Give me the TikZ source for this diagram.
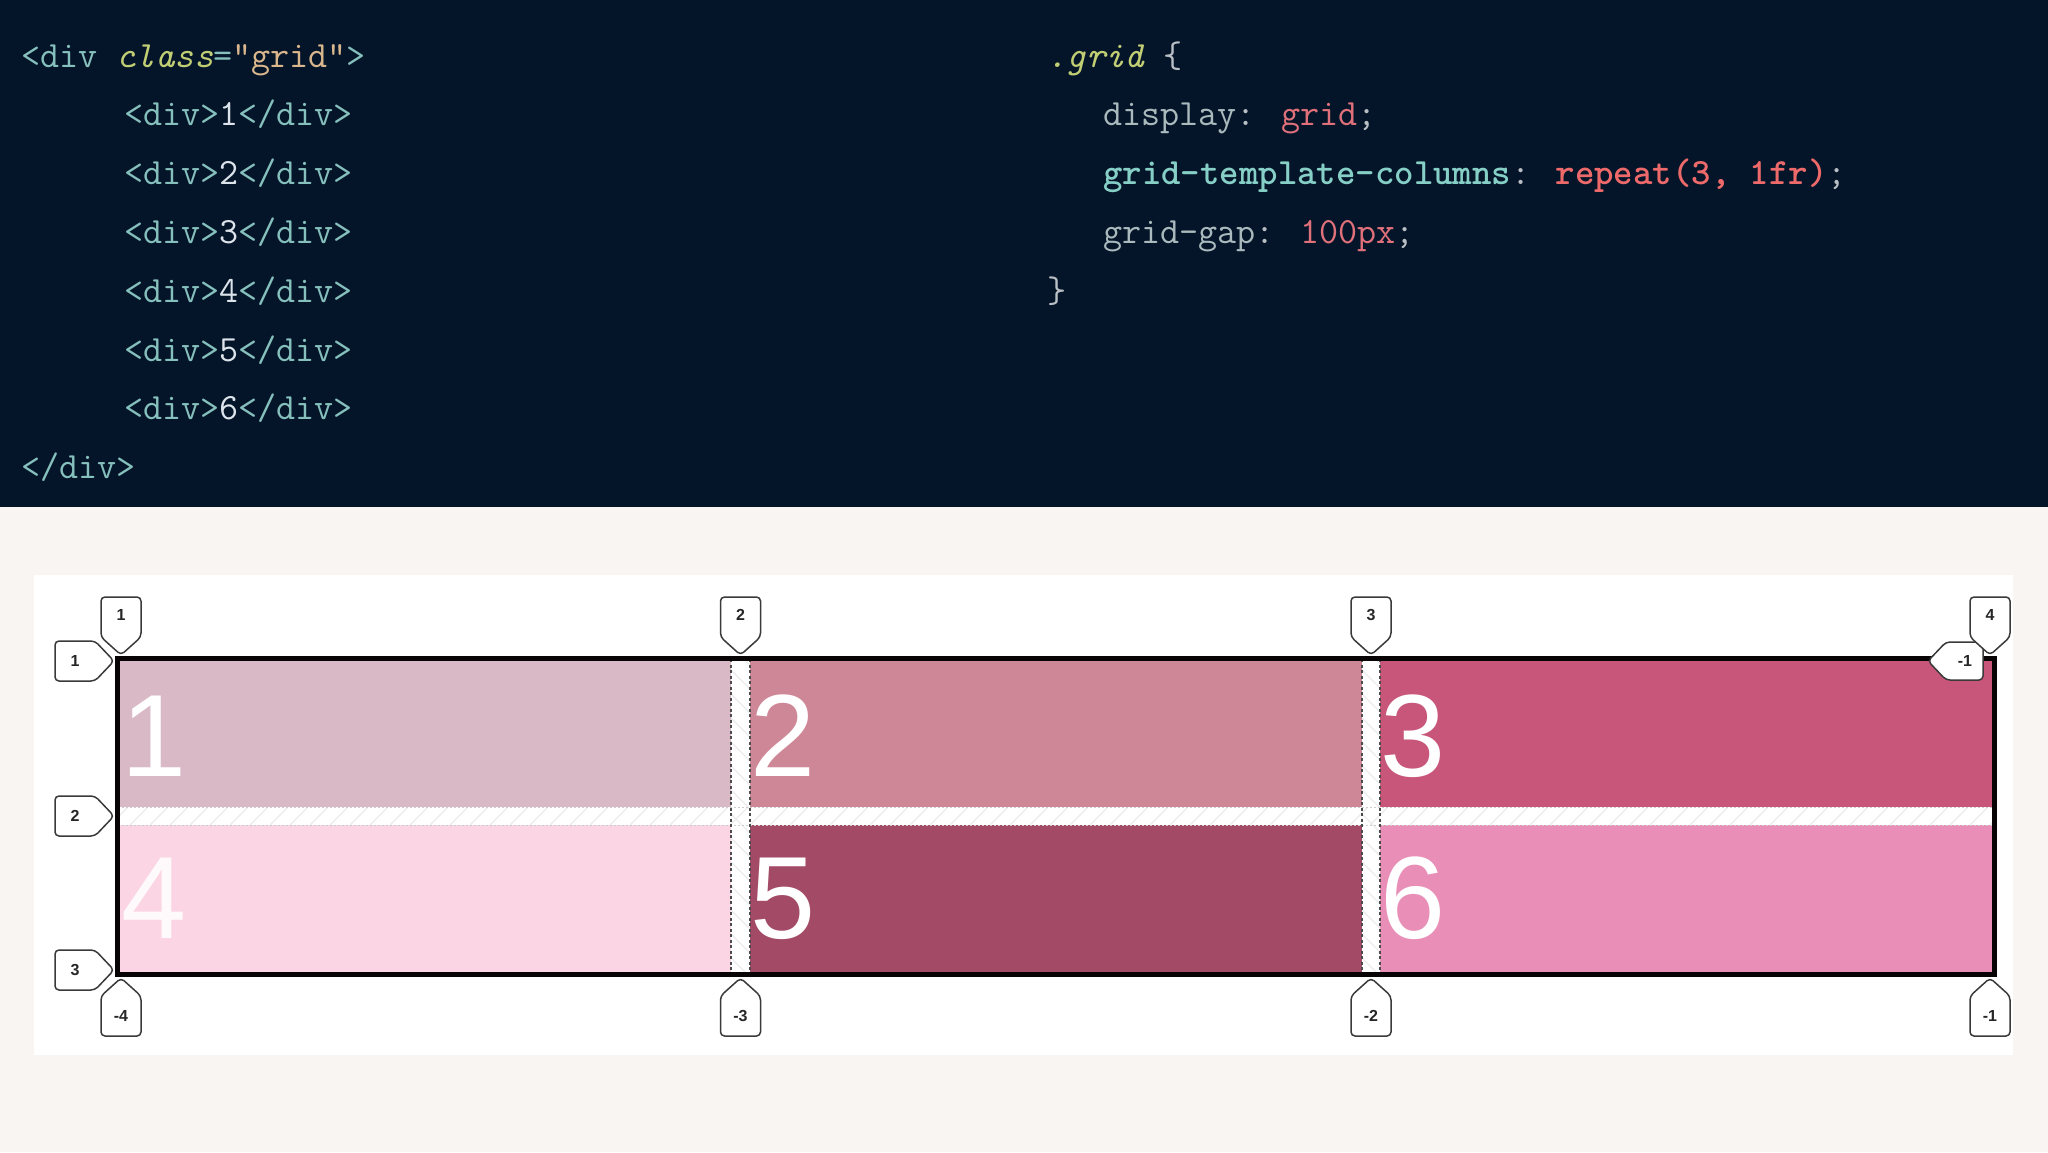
\documentclass[tikz,border=0pt]{standalone}
\usepackage{fontspec}
\newfontfamily\numfont{Liberation Sans}
\definecolor{codebg}{HTML}{04152A}
\definecolor{lightbg}{HTML}{F8F5F3}
\definecolor{tagc}{HTML}{86C0BD}
\definecolor{attrc}{HTML}{C2CE74}
\definecolor{strc}{HTML}{D9B68C}
\definecolor{numc}{HTML}{DDE3EA}
\definecolor{punc}{HTML}{B9BFC4}
\definecolor{propc}{HTML}{A9B9BC}
\definecolor{valc}{HTML}{E0707A}
\definecolor{bpropc}{HTML}{86CFC6}
\definecolor{bvalc}{HTML}{EE6A6A}
\definecolor{cellA}{HTML}{D8B9C5}
\definecolor{cellB}{HTML}{CE8797}
\definecolor{cellC}{HTML}{C8557A}
\definecolor{cellD}{HTML}{FBD5E3}
\definecolor{cellE}{HTML}{A34A67}
\definecolor{cellF}{HTML}{E98FB7}
\definecolor{tagline}{HTML}{3A3A3A}
\begin{document}
\begin{tikzpicture}[x=1pt,y=-1pt,
  code/.style={anchor=base west, inner sep=0pt, font=\fontsize{37}{44}\selectfont\ttfamily},
  bignum/.style={anchor=base west, inner sep=0pt, text=white, font=\numfont\fontsize{117}{120}\selectfont},
  tagshape/.style={draw=tagline, fill=white, line width=1.5pt, rounded corners=4pt, line join=round},
  tagtext/.style={inner sep=0pt, text=black!85, font=\numfont\bfseries\fontsize{16}{19}\selectfont},
  gapedge/.style={draw=black!70, line width=1.2pt, dash pattern=on 3pt off 2.5pt},
  rowedge/.style={draw=black!20, line width=1pt, dash pattern=on 2pt off 2pt},
  hatch/.style={draw=black!8, line width=1.2pt}]
\useasboundingbox (0,0) rectangle (2048,1152);
% backgrounds
\fill[codebg] (0,0) rectangle (2048,507);
\fill[lightbg] (0,507) rectangle (2048,1152);
\fill[white] (34,575) rectangle (2013,1055);

% HTML code
\node[code] (h0) at (21,67) {\color{tagc}<div \textit{\color{attrc}class}=\color{strc}"grid"\color{tagc}>};
\node[code] (h1) at (124,125.8) {\color{tagc}<div>\color{numc}1\color{tagc}</div>};
\node[code] (h2) at (124,184.6) {\color{tagc}<div>\color{numc}2\color{tagc}</div>};
\node[code] (h3) at (124,243.4) {\color{tagc}<div>\color{numc}3\color{tagc}</div>};
\node[code] (h4) at (124,302.2) {\color{tagc}<div>\color{numc}4\color{tagc}</div>};
\node[code] (h5) at (124,361.0) {\color{tagc}<div>\color{numc}5\color{tagc}</div>};
\node[code] (h6) at (124,419.8) {\color{tagc}<div>\color{numc}6\color{tagc}</div>};
\node[code] (h7) at (21,478.6) {\color{tagc}</div>};

% CSS code
\node[code] (c0) at (1047,67) {\textit{\color{attrc}.grid} \color{punc}\{};
\node[code] (c1) at (1103,125.8) {\color{propc}display\color{punc}: \color{valc}grid\color{punc};};
\node[code] (c2) at (1103,184.6) {{\bfseries\color{bpropc}grid-template-columns}\color{punc}: {\bfseries\color{bvalc}repeat(3, 1fr)}\color{punc};};
\node[code] (c3) at (1103,243.4) {\color{propc}grid-gap\color{punc}: \color{valc}100px\color{punc};};
\node[code] (c4) at (1047,302.2) {\color{punc}\}};

% grid cells
\fill[cellA] (118,659) rectangle (731,807);
\fill[cellB] (750,659) rectangle (1362,807);
\fill[cellC] (1380,659) rectangle (1993,807);
\fill[cellD] (118,825) rectangle (731,973);
\fill[cellE] (750,825) rectangle (1362,973);
\fill[cellF] (1380,825) rectangle (1993,973);

% gaps
\fill[white] (118,807) rectangle (1993,825);
\fill[white] (731,659) rectangle (750,973);
\fill[white] (1362,659) rectangle (1380,973);
\begin{scope}
  \clip (118,807) rectangle (1993,825);
  \foreach \h in {110,130,...,2000} { \draw[hatch] (\h,825) -- (\h+18,807); }
\end{scope}
\begin{scope}
  \clip (731,659) rectangle (750,973) (1362,659) rectangle (1380,973);
  \foreach \v in {640,664,...,990} { \draw[hatch] (725,\v) -- (756,\v+31); \draw[hatch] (1356,\v) -- (1386,\v+30); }
\end{scope}
\draw[rowedge] (118,807) -- (1993,807);
\draw[rowedge] (118,825) -- (1993,825);
\draw[gapedge] (731,659) -- (731,973);
\draw[gapedge] (750,659) -- (750,973);
\draw[gapedge] (1362,659) -- (1362,973);
\draw[gapedge] (1380,659) -- (1380,973);

% big numbers
\node[bignum] (n1) at (121,776) {1};
\node[bignum] (n2) at (750,776) {2};
\node[bignum] (n3) at (1380,776) {3};
\node[bignum, text=white!85!cellD] (n4) at (121,938) {4};
\node[bignum] (n5) at (750,938) {5};
\node[bignum] (n6) at (1380,938) {6};

% outer border
\draw[line width=5pt, draw=black!95!cellE] (117.5,658) rectangle (1994,974);

% right-pointing "-1" tag
\draw[tagshape] (1928,661) -- (1946,642) -- (1983,642) -- (1983,680) -- (1946,680) -- cycle;
\node[tagtext] (rm1) at (1965,661) {-1};

% top column tags
\foreach \X/\L/\n in {121/1/t1, 740.5/2/t2, 1371/3/t3, 1990/4/t4} {
  \draw[tagshape] (\X-20,597) -- (\X+20,597) -- (\X+20,637) -- (\X,655) -- (\X-20,637) -- cycle;
  \node[tagtext] (\n) at (\X,615) {\L};
}
% bottom column tags
\foreach \X/\L/\n in {121/-4/b1, 740.5/-3/b2, 1371/-2/b3, 1990/-1/b4} {
  \draw[tagshape] (\X,978) -- (\X+20,996) -- (\X+20,1036) -- (\X-20,1036) -- (\X-20,996) -- cycle;
  \node[tagtext] (\n) at (\X,1016) {\L};
}
% left row tags
\foreach \Y/\L/\n in {661/1/l1, 816/2/l2, 970/3/l3} {
  \draw[tagshape] (55,\Y-20) -- (95,\Y-20) -- (114,\Y) -- (95,\Y+20) -- (55,\Y+20) -- cycle;
  \node[tagtext] (\n) at (75,\Y) {\L};
}
\end{tikzpicture}
\end{document}
